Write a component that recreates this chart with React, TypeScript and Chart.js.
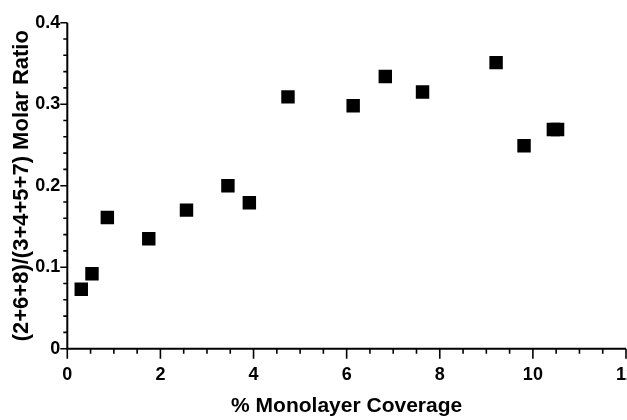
import React, { useEffect, useRef } from "react";
import { Chart, registerables } from "chart.js";

Chart.register(...registerables);

// % monolayer coverage
const coverage = [0.30, 0.53, 0.86, 1.75, 2.56, 3.45, 3.91, 4.74, 6.14, 6.83, 7.63, 9.21, 9.81, 10.44, 10.53];
// (2+6+8)/(3+4+5+7) molar ratio
const molarRatio = [0.073, 0.092, 0.161, 0.135, 0.170, 0.200, 0.179, 0.309, 0.298, 0.334, 0.315, 0.351, 0.249, 0.269, 0.269];

const xMin = 0;
const xMax = 12;
const xStep = 2;
const xMinorStep = 0.5;
const yMin = 0;
const yMax = 0.4;
const yStep = 0.1;
const yMinorStep = 0.02;

const xTitle = "% Monolayer Coverage";
const yTitle = "(2+6+8)/(3+4+5+7) Molar Ratio";

const FONT = "'Liberation Sans', Arial, Helvetica, sans-serif";

const axisPlugin = {
  id: "axisPlugin",
  afterDatasetsDraw(chart: any) {
    const { ctx, chartArea, scales } = chart;
    const { left, right, top, bottom } = chartArea;
    const xs = scales.x;
    const ys = scales.y;
    ctx.save();
    ctx.strokeStyle = "#000";
    ctx.lineWidth = 2;
    ctx.beginPath();
    ctx.moveTo(left, top);
    ctx.lineTo(left, bottom);
    ctx.moveTo(left - 1, bottom);
    ctx.lineTo(right, bottom);
    ctx.stroke();
    // y ticks
    const nY = Math.round((yMax - yMin) / yMinorStep);
    const perMajorY = Math.round(yStep / yMinorStep);
    ctx.lineWidth = 1.6;
    ctx.beginPath();
    for (let i = 0; i <= nY; i++) {
      const v = yMin + i * yMinorStep;
      const py = ys.getPixelForValue(v);
      const len = i % perMajorY === 0 ? 7 : 4;
      ctx.moveTo(left - len, py);
      ctx.lineTo(left, py);
    }
    // x ticks
    const nX = Math.round((xMax - xMin) / xMinorStep);
    const perMajorX = Math.round(xStep / xMinorStep);
    for (let i = 0; i <= nX; i++) {
      const v = xMin + i * xMinorStep;
      const px = xs.getPixelForValue(v);
      const len = i % perMajorX === 0 ? 10 : 5;
      ctx.moveTo(px, bottom);
      ctx.lineTo(px, bottom + len);
    }
    ctx.stroke();
    ctx.restore();
  },
};

export default function App() {
  const canvasRef = useRef<HTMLCanvasElement | null>(null);

  useEffect(() => {
    const canvas = canvasRef.current;
    if (!canvas) return;
    const chart = new Chart(canvas, {
      type: "scatter",
      data: {
        datasets: [
          {
            data: coverage.map((x, i) => ({ x, y: molarRatio[i] })),
            pointStyle: "rect",
            pointRadius: 9.5,
            pointHoverRadius: 9.5,
            backgroundColor: "#000",
            borderColor: "#000",
            borderWidth: 0,
          },
        ],
      },
      options: {
        animation: false,
        responsive: false,
        devicePixelRatio: 1,
        layout: { padding: { left: 0, right: 34, top: 22.7, bottom: 0 } },
        plugins: {
          legend: { display: false },
          tooltip: { enabled: false },
        },
        scales: {
          x: {
            type: "linear",
            min: xMin,
            max: xMax,
            grid: { display: false, drawTicks: false },
            border: { display: false },
            ticks: {
              stepSize: xStep,
              padding: 16,
              color: "#000",
              font: { family: FONT, size: 18, weight: "bold" },
              maxRotation: 0,
              autoSkip: false,
            },
            title: {
              display: true,
              text: xTitle,
              color: "#000",
              font: { family: FONT, size: 21, weight: "bold" },
              padding: { top: 0, bottom: 1 },
            },
            afterFit(scale: any) {
              scale.height = 420 - 348.7;
            },
          },
          y: {
            type: "linear",
            min: yMin,
            max: yMax,
            grid: { display: false, drawTicks: false },
            border: { display: false },
            ticks: {
              stepSize: yStep,
              padding: 7,
              color: "#000",
              font: { family: FONT, size: 18, weight: "bold" },
            },
            title: {
              display: true,
              text: yTitle,
              color: "#000",
              font: { family: FONT, size: 22, weight: "bold" },
              padding: { top: 9, bottom: 0 },
            },
            afterFit(scale: any) {
              scale.width = 67.3;
            },
          },
        },
      },
      plugins: [axisPlugin],
    });
    return () => chart.destroy();
  }, []);

  return (
    <div
      style={{
        position: "fixed",
        left: 0,
        top: 0,
        width: 627,
        height: 420,
        overflow: "hidden",
        background: "#fff",
      }}
    >
      <canvas ref={canvasRef} width={660} height={420} style={{ display: "block" }} />
    </div>
  );
}
